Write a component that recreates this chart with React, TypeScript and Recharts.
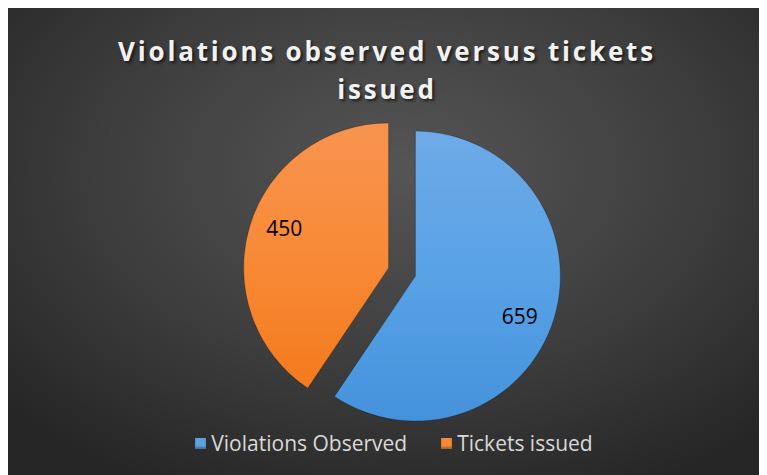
import React from "react";
import { PieChart, Pie, Cell, Legend } from "recharts";

const categories = ["Violations Observed", "Tickets issued"];
const values = [659, 450];
const legendColors = ["#5fa2e0", "#f58b3a"];

const data = categories.map((name, i) => ({ name, value: values[i] }));

const W = 760;
const H = 468;
const CX = 390;
const CY = 260;
const R = 145;
const EXPLODE = 14;
const RAD = Math.PI / 180;

const gradIds = ["gBlue", "gOrange"];

const renderLabel = (which: number) => (props: any) => {
  const { cx, cy, midAngle, outerRadius, value, index } = props;
  if (index !== which) return null;
  const r = outerRadius * 0.77;
  const a = midAngle - 4;
  const x = cx + r * Math.cos(-a * RAD);
  const y = cy + r * Math.sin(-a * RAD);
  return (
    <text
      x={x}
      y={y}
      textAnchor="middle"
      dominantBaseline="central"
      fill="#000000"
      fontSize={21}
      fontFamily="'Open Sans', 'Noto Sans', sans-serif"
    >
      {value}
    </text>
  );
};

const total = values.reduce((a, b) => a + b, 0);
const midAngles: number[] = [];
{
  let acc = 0;
  values.forEach((v) => {
    const span = (v / total) * 360;
    midAngles.push(90 - acc - span / 2);
    acc += span;
  });
}

const LegendContent = () => (
  <div
    style={{
      display: "flex",
      justifyContent: "center",
      alignItems: "center",
      gap: 34,
      fontFamily: "'Open Sans', 'Noto Sans', sans-serif",
      fontSize: 21,
      color: "#d9d9d9",
      marginLeft: 14,
    }}
  >
    {categories.map((c, i) => (
      <div key={c} style={{ display: "flex", alignItems: "center" }}>
        <span
          style={{
            display: "inline-block",
            width: 11,
            height: 11,
            background: legendColors[i],
            marginRight: 5,
            boxShadow: "inset 0 -2px 2px rgba(0,0,0,0.3)",
          }}
        />
        <span>{c}</span>
      </div>
    ))}
  </div>
);

export default function App() {
  return (
    <div
      style={{
        width: W,
        height: H,
        margin: "-1px 0 0 -1px",
        position: "relative",
        background:
          "radial-gradient(ellipse 70% 75% at 52% 35%, #555555 0%, #3e3e3e 55%, #262626 100%)",
      }}
    >
      <div
        style={{
          position: "absolute",
          left: 0,
          top: 25,
          width: W,
          textAlign: "center",
          color: "#f2f2f2",
          fontFamily: "'Open Sans', 'Noto Sans', sans-serif",
          fontWeight: 700,
          fontSize: 26,
          letterSpacing: 2.8,
          lineHeight: "38px",
          textShadow: "2px 2px 3px rgba(0,0,0,0.6)",
        }}
      >
        Violations observed versus tickets
        <br />
        issued
      </div>
      <PieChart width={W} height={H} style={{ position: "absolute", left: 0, top: 0 }}>
        <defs>
          <linearGradient id="gBlue" x1="0" y1="0" x2="0" y2="1">
            <stop offset="0%" stopColor="#6eaae6" />
            <stop offset="50%" stopColor="#58a2e6" />
            <stop offset="100%" stopColor="#4592dc" />
          </linearGradient>
          <linearGradient id="gOrange" x1="0" y1="0" x2="0" y2="1">
            <stop offset="0%" stopColor="#f8944f" />
            <stop offset="50%" stopColor="#f88a37" />
            <stop offset="100%" stopColor="#f37a1c" />
          </linearGradient>
        </defs>
        {[0, 1].map((which) => (
          <Pie
            key={which}
            data={data}
            dataKey="value"
            nameKey="name"
            cx={CX + EXPLODE * Math.cos(midAngles[which] * RAD)}
            cy={CY - EXPLODE * Math.sin(midAngles[which] * RAD)}
            outerRadius={R}
            startAngle={90}
            endAngle={-270}
            stroke="none"
            labelLine={false}
            label={renderLabel(which)}
            isAnimationActive={false}
            legendType={which === 0 ? "square" : "none"}
          >
            {data.map((d, i) => (
              <Cell
                key={d.name}
                fill={i === which ? `url(#${gradIds[i]})` : "none"}
                stroke={i === which ? "rgba(0,0,0,0.25)" : "none"}
                strokeWidth={1}
              />
            ))}
          </Pie>
        ))}
        <Legend
          verticalAlign="bottom"
          align="center"
          content={<LegendContent />}
          wrapperStyle={{ bottom: 18 }}
        />
      </PieChart>
    </div>
  );
}
